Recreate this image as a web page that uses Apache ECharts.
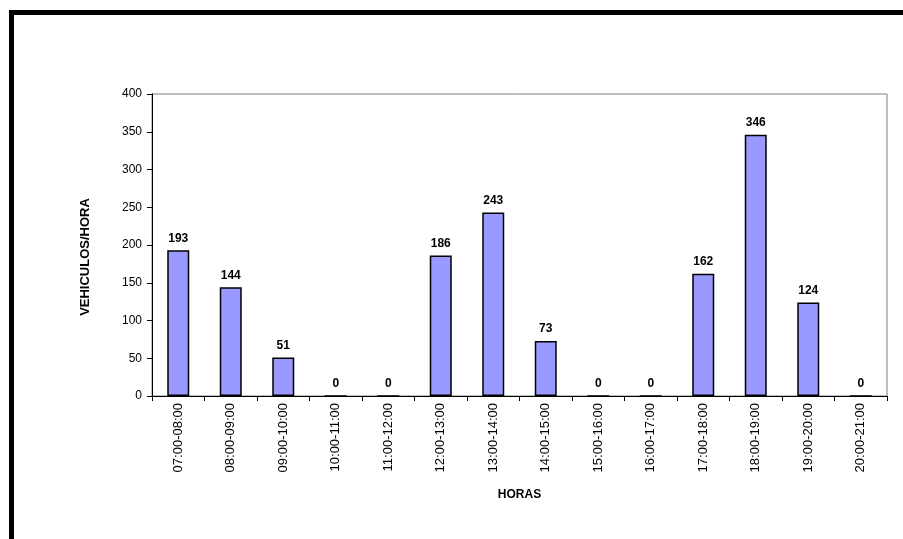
<!DOCTYPE html>
<html>
<head>
<meta charset="utf-8">
<script src="https://cdn.jsdelivr.net/npm/echarts@6/dist/echarts.min.js"></script>
<style>
  html, body { margin: 0; padding: 0; background: #fff; }
  #chart { width: 903px; height: 539px; }
</style>
</head>
<body>
<div id="chart"></div>
<script>
  // franjas horarias y conteos
  var horas = ['07:00-08:00', '08:00-09:00', '09:00-10:00', '10:00-11:00', '11:00-12:00',
    '12:00-13:00', '13:00-14:00', '14:00-15:00', '15:00-16:00', '16:00-17:00',
    '17:00-18:00', '18:00-19:00', '19:00-20:00', '20:00-21:00'];
  var vehiculos = [193, 144, 51, 0, 0, 186, 243, 73, 0, 0, 162, 346, 124, 0];

  var chart = echarts.init(document.getElementById('chart'));
  var font = 'Liberation Sans, Arial, sans-serif';
  var option = {
    animation: false,
    textStyle: { fontFamily: font },
    graphic: [
      // marco negro superior e izquierdo
      { type: 'rect', shape: { x: 9, y: 10, width: 894, height: 5 }, style: { fill: '#000' } },
      { type: 'rect', shape: { x: 9, y: 10, width: 5, height: 529 }, style: { fill: '#000' } }
    ],
    grid: {
      left: 152, top: 94, right: 16, bottom: 143,
      show: true, borderColor: '#808080', borderWidth: 1, backgroundColor: '#fff'
    },
    xAxis: {
      type: 'category',
      data: horas,
      name: 'HORAS',
      nameLocation: 'middle',
      nameGap: 93,
      nameTextStyle: { fontWeight: 'bold', fontSize: 12, color: '#000', fontFamily: font },
      axisLine: { lineStyle: { color: '#000', width: 1 } },
      axisTick: { show: true, length: 5, alignWithLabel: false, lineStyle: { color: '#000' } },
      axisLabel: { rotate: 90, fontSize: 13, color: '#000', margin: 7, fontFamily: font }
    },
    yAxis: {
      type: 'value',
      min: 0, max: 400, interval: 50,
      name: 'VEHICULOS/HORA',
      nameLocation: 'middle',
      nameGap: 60,
      nameTextStyle: {
        fontWeight: 'bold', fontSize: 13, color: '#000', fontFamily: font,
        padding: [0, 24, 0, 0]
      },
      axisLine: { show: true, lineStyle: { color: '#000', width: 1 } },
      axisTick: { show: true, length: 5, lineStyle: { color: '#000' } },
      axisLabel: { fontSize: 12, color: '#000', margin: 10, fontFamily: font },
      splitLine: { show: false }
    },
    series: [{
      type: 'bar',
      data: vehiculos,
      barWidth: 22,
      itemStyle: { color: '#9999FF', borderColor: '#000', borderWidth: 1.5 },
      label: {
        show: true, position: 'top', distance: 6,
        fontWeight: 'bold', fontSize: 12, color: '#000', fontFamily: font
      }
    }]
  };
  chart.setOption(option);
</script>
</body>
</html>
